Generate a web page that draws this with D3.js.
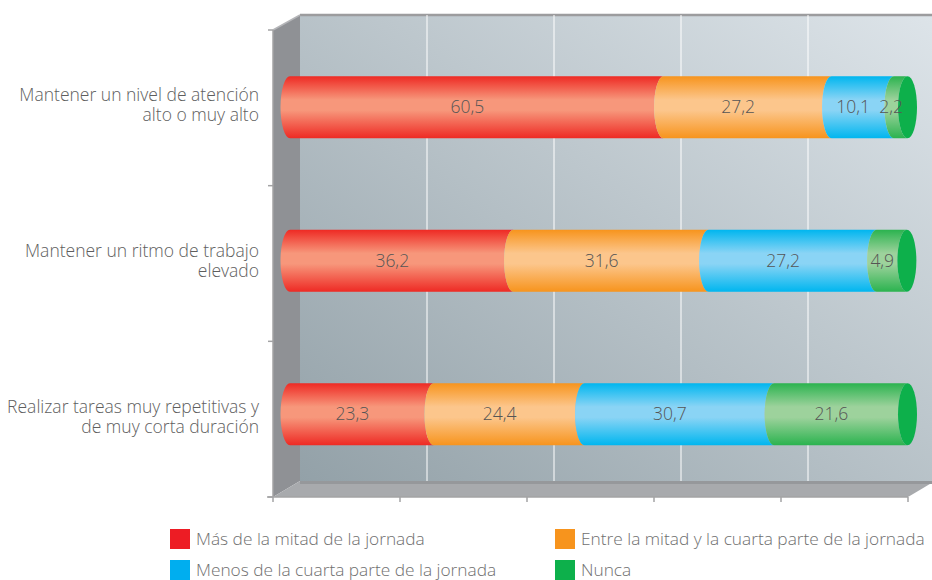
<!DOCTYPE html>
<html lang="es">
<head>
<meta charset="UTF-8">
<title>Ritmo de trabajo</title>
<script src="https://d3js.org/d3.v7.min.js"></script>
<style>
  body { margin: 0; background: #fff; }
  text { font-family: "Open Sans", "DejaVu Sans", sans-serif; font-weight: 300; }
</style>
</head>
<body>
<div id="chart"></div>
<script>
// category labels (one entry per line)
const categories = [
  ["Mantener un nivel de atención", "alto o muy alto"],
  ["Mantener un ritmo de trabajo", "elevado"],
  ["Realizar tareas muy repetitivas y", "de muy corta duración"]
];
const seriesNames = [
  "Más de la mitad de la jornada",
  "Entre la mitad y la cuarta parte de la jornada",
  "Menos de la cuarta parte de la jornada",
  "Nunca"
];
const masMitad = [60.5, 36.2, 23.3];
const entreMitadCuarta = [27.2, 31.6, 24.4];
const menosCuarta = [10.1, 27.2, 30.7];
const nunca = [2.2, 4.9, 21.6];
const xTicks = [0, 20, 40, 60, 80, 100];

const colors = [
  { edge: "#ee2a24", mid: "#f7977b", swatch: "#ed1c24" },
  { edge: "#f7941d", mid: "#fcc68c", swatch: "#f7941d" },
  { edge: "#00b6ef", mid: "#8ad4f5", swatch: "#00aeef" },
  { edge: "#2bb34f", mid: "#9dd29c", swatch: "#0db04b" }
];

const W = 932, H = 580;
const depthX = 27;
const rx = 9.5;

const svg = d3.select("#chart").append("svg")
  .attr("width", W).attr("height", H);

const defs = svg.append("defs");
const wallGrad = defs.append("linearGradient").attr("id", "wall")
  .attr("x1", 0).attr("y1", 1).attr("x2", 1).attr("y2", 0);
wallGrad.append("stop").attr("offset", 0).attr("stop-color", "#93a1a8");
wallGrad.append("stop").attr("offset", 1).attr("stop-color", "#dde4e9");

colors.forEach((c, i) => {
  const g = defs.append("linearGradient").attr("id", "cyl" + i)
    .attr("x1", 0).attr("y1", 0).attr("x2", 0).attr("y2", 1);
  g.append("stop").attr("offset", 0).attr("stop-color", c.edge);
  g.append("stop").attr("offset", 0.38).attr("stop-color", c.mid);
  g.append("stop").attr("offset", 0.55).attr("stop-color", c.mid);
  g.append("stop").attr("offset", 1).attr("stop-color", c.edge);
});

// scales
const x = d3.scaleLinear().domain([0, 100]).range([273, 908]);      // front axis
const xBar = d3.scaleLinear().domain([0, 100]).range([290, 907.5]); // bar centre plane
const yBand = d3.scaleBand().domain(d3.range(categories.length)).range([30, 497]);
const yBar = d3.scaleBand().domain(d3.range(categories.length)).range([30.5, 491]);
const barH = 62;

const wallTop = 15, floorY = 481, frontY = 497;

// back wall
svg.append("rect")
  .attr("x", x(0) + depthX).attr("y", wallTop)
  .attr("width", W - x(0) - depthX).attr("height", floorY - wallTop)
  .attr("fill", "url(#wall)");
svg.append("line")
  .attr("x1", x(0) + depthX).attr("x2", W).attr("y1", wallTop).attr("y2", wallTop)
  .attr("stroke", "#9c9c9e").attr("stroke-width", 2.5);

// grid lines on back wall
svg.append("g").selectAll("line")
  .data(xTicks.slice(1))
  .join("line")
  .attr("x1", d => x(d) + depthX).attr("x2", d => x(d) + depthX)
  .attr("y1", wallTop).attr("y2", floorY)
  .attr("stroke", "#ffffff").attr("stroke-width", 1);

// left wall
svg.append("path")
  .attr("d", `M${x(0)},${30} L${x(0) + depthX},${wallTop} L${x(0) + depthX},${floorY} L${x(0)},${frontY} Z`)
  .attr("fill", "#8f9195");
svg.append("line")
  .attr("x1", x(0)).attr("y1", 30).attr("x2", x(0) + depthX).attr("y2", wallTop)
  .attr("stroke", "#b4b5b8").attr("stroke-width", 1.5);

// floor
svg.append("path")
  .attr("d", `M${x(0)},${frontY} L${x(0) + depthX},${floorY} L${x(100) + depthX},${floorY} L${x(100)},${frontY} Z`)
  .attr("fill", "#a8aaad");
svg.append("line")
  .attr("x1", x(0) + depthX).attr("x2", x(100) + depthX).attr("y1", floorY + 1.5).attr("y2", floorY + 1.5)
  .attr("stroke", "#96989b").attr("stroke-width", 3);

// axes lines and ticks
const axisColor = "#a3a3a5";
svg.append("line")
  .attr("x1", 267).attr("x2", x(100)).attr("y1", frontY).attr("y2", frontY)
  .attr("stroke", axisColor).attr("stroke-width", 1.5);
svg.append("line")
  .attr("x1", x(0)).attr("x2", x(0)).attr("y1", 30).attr("y2", frontY)
  .attr("stroke", axisColor).attr("stroke-width", 1.5);
svg.append("g").selectAll("line")
  .data(xTicks)
  .join("line")
  .attr("x1", d => x(d)).attr("x2", d => x(d))
  .attr("y1", frontY).attr("y2", frontY + 5)
  .attr("stroke", axisColor).attr("stroke-width", 1.5);
const yTickPos = yBand.domain().map(i => yBand(i)).concat([yBand.range()[1]]);
svg.append("g").selectAll("line")
  .data(yTickPos)
  .join("line")
  .attr("x1", x(0) - 5).attr("x2", x(0))
  .attr("y1", d => d).attr("y2", d => d)
  .attr("stroke", axisColor).attr("stroke-width", 1.5);

// category labels
const labels = svg.append("g").selectAll("text")
  .data(categories)
  .join("text")
  .attr("text-anchor", "end")
  .attr("fill", "#5e5e5e")
  .style("font-size", "17.5px");
labels.each(function (lines, i) {
  const c = yBand(i) + yBand.bandwidth() / 2;
  d3.select(this).selectAll("tspan")
    .data(lines)
    .join("tspan")
    .attr("x", 259)
    .attr("y", (d, j) => c - 6.5 + j * 20)
    .text(d => d);
});

// stacked cylinders
const rows = categories.map((c, i) => ({
  idx: i, s0: masMitad[i], s1: entreMitadCuarta[i], s2: menosCuarta[i], s3: nunca[i]
}));
const stack = d3.stack().keys(["s0", "s1", "s2", "s3"])(rows);

function segPath(x1, x2, yt, yb) {
  const ry = (yb - yt) / 2;
  return `M${x1},${yt} L${x2},${yt} A${rx},${ry} 0 0 0 ${x2},${yb} L${x1},${yb} A${rx},${ry} 0 0 1 ${x1},${yt} Z`;
}

const bars = svg.append("g");
stack.forEach((layer, k) => {
  layer.forEach((d, i) => {
    const yt = yBar(i) + yBar.bandwidth() / 2 - barH / 2;
    bars.append("path")
      .attr("d", segPath(xBar(d[0]), xBar(d[1]), yt, yt + barH))
      .attr("fill", `url(#cyl${k})`);
  });
});
// end caps
bars.selectAll("ellipse")
  .data(stack[stack.length - 1])
  .join("ellipse")
  .attr("cx", d => xBar(d[1]))
  .attr("cy", (d, i) => yBar(i) + yBar.bandwidth() / 2)
  .attr("rx", rx).attr("ry", barH / 2)
  .attr("fill", colors[3].swatch);

// value labels
stack.forEach((layer, k) => {
  bars.append("g").selectAll("text")
    .data(layer)
    .join("text")
    .attr("x", d => (xBar(d[0]) + xBar(d[1])) / 2 - rx)
    .attr("y", (d, i) => yBar(i) + yBar.bandwidth() / 2)
    .attr("dy", "0.35em")
    .attr("text-anchor", "middle")
    .attr("fill", "#555555")
    .style("font-size", "17.5px")
    .text(d => d3.format(".1f")(d[1] - d[0]).replace(".", ","));
});

// legend
const legendPos = [[170, 529], [555, 529], [170, 560], [555, 560]];
const legend = svg.append("g").selectAll("g")
  .data(seriesNames)
  .join("g")
  .attr("transform", (d, i) => `translate(${legendPos[i][0]},${legendPos[i][1]})`);
legend.append("rect")
  .attr("width", 20).attr("height", 20)
  .attr("fill", (d, i) => colors[i].swatch);
legend.append("text")
  .attr("x", 26).attr("y", 10).attr("dy", "0.35em")
  .attr("fill", "#707070")
  .style("font-size", "17.3px")
  .text(d => d);
</script>
</body>
</html>
